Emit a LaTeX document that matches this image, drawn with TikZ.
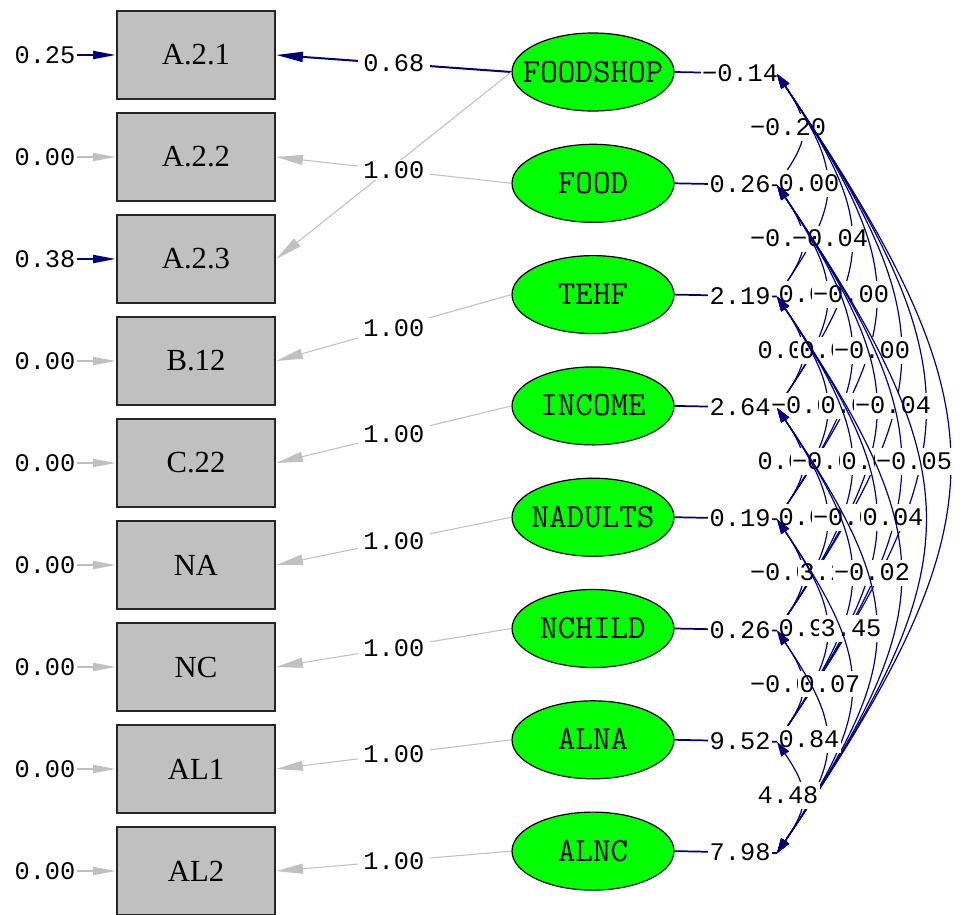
\documentclass[tikz,border=0pt]{standalone}
\usepackage{fontspec}
\setmainfont{Liberation Serif}
\newfontfamily\lismono{Liberation Mono}
\usetikzlibrary{positioning, arrows.meta, shapes.geometric}

\definecolor{lisnavy}{RGB}{0,0,128}
\definecolor{lisgrey}{RGB}{192,192,192}
\definecolor{lisgreen}{RGB}{0,255,0}

\newcommand{\lisnum}{\lismono\fontsize{19}{19}\selectfont}

\tikzset{
  obsbox/.style={draw=black!85, line width=1.4pt, fill=lisgrey,
    minimum width=119pt, minimum height=66.5pt, inner sep=0pt,
    font=\fontsize{23}{23}\selectfont},
  latent/.style={ellipse, draw=black, line width=0.9pt, fill=lisgreen,
    minimum width=121.5pt, minimum height=58.5pt, inner sep=0pt,
    text height=15pt, text depth=0pt, font=\ttfamily\fontsize{25.5}{25.5}\selectfont},
  coef/.style={fill=white, text=black, font=\lisnum, inner xsep=4pt, inner ysep=1pt},
  errlab/.style={font=\lisnum, inner sep=1pt},
  covlab/.style={fill=white, text=black, font=\lisnum, inner xsep=1pt, inner ysep=0pt,
    text height=16pt, text depth=4pt},
  loadarrow/.style={-{Triangle[length=20pt, width=7.5pt]}, line width=0.8pt},
  errarrow/.style={-{Triangle[length=17pt, width=6pt]}, line width=1.2pt},
  varline/.style={lisnavy, line width=1.3pt},
  covarc/.style={{Triangle[length=11pt, width=7pt]}-{Triangle[length=11pt, width=7pt]},
    lisnavy, line width=0.9pt, bend left=34, looseness=1.35}
}

\begin{document}
\begin{tikzpicture}[x=0.75pt, y=-0.75pt]
    \useasboundingbox (0,0) rectangle (963,914);

    % observed variables
    \foreach \txt [count=\k] in {A.2.1, A.2.2, A.2.3, B.12, C.22, NA, NC, AL1, AL2}{
        \node[obsbox] (b\k) at (196,{55+102*(\k-1)}) {\txt};
      }

    % latent variables
    \foreach \txt [count=\k] in {FOODSHOP, FOOD, TEHF, INCOME, NADULTS, NCHILD, ALNA, ALNC}{
        \node[latent] (l\k) at (593,{72+111.3*(\k-1)}) {\makebox[0pt]{\txt}};
        \coordinate (c\k) at (777,{74+111.3*(\k-1)});
      }

    % error terms
    \foreach \val/\col/\lw [count=\k] in {0.25/lisnavy/1.5pt, 0.00/lisgrey/1.2pt,
        0.38/lisnavy/1.5pt, 0.00/lisgrey/1.2pt, 0.00/lisgrey/1.2pt, 0.00/lisgrey/1.2pt,
        0.00/lisgrey/1.2pt, 0.00/lisgrey/1.2pt, 0.00/lisgrey/1.2pt}{
        \node[errlab] (e\k) at (45,{55+102*(\k-1)}) {\val};
        \draw[errarrow, \col, line width=\lw] (e\k) -- (b\k.west);
      }

    % loadings
    \draw[loadarrow, lisnavy, line width=1.5pt] (l1.west) -- node[coef] (g1) {0.68} (b1.east);
    \draw[loadarrow, lisgrey] (l2.west) -- node[coef] (g2) {1.00} (b2.east);
    \draw[loadarrow, lisgrey] (l1.west) -- (b3.east);
    \node[coef] (g3) at (g2) {1.00};
    \foreach \a/\b in {3/4, 4/5, 5/6, 6/7, 7/8, 8/9}{
        \draw[loadarrow, lisgrey] (l\a.west) -- node[coef] (g\b) {1.00} (b\b.east);
      }

    % variances
    \foreach \val [count=\k] in {−0.14, 0.26, 2.19, 2.64, 0.19, 0.26, 9.52, 7.98}{
        \draw[varline] (l\k.east) -- node[coef, pos=0.64, inner xsep=1pt] (s\k) {\val} (c\k);
      }

    % covariances
    \foreach \i/\j/\val in {1/2/−0.20,
        1/3/0.00, 2/3/−0.02,
        1/4/−0.04, 2/4/0.01, 3/4/0.03,
        1/5/−0.00, 2/5/0.00, 3/5/−0.01, 4/5/0.05,
        1/6/−0.00, 2/6/0.02, 3/6/−0.01, 4/6/0.03, 5/6/−0.03,
        1/7/−0.04, 2/7/0.01, 3/7/−0.02, 4/7/3.21, 5/7/0.93, 6/7/−0.05,
        1/8/−0.05, 2/8/0.04, 3/8/−0.02, 4/8/3.45, 5/8/0.07, 6/8/0.84, 7/8/4.48}{
        \draw[covarc] (c\i) to (c\j);
        \node[covlab] (v\i\j) at ({767+21*(\j-\i)},{72+111.3*(\i+\j-2)/2}) {\val};
      }
  \end{tikzpicture}
\end{document}
